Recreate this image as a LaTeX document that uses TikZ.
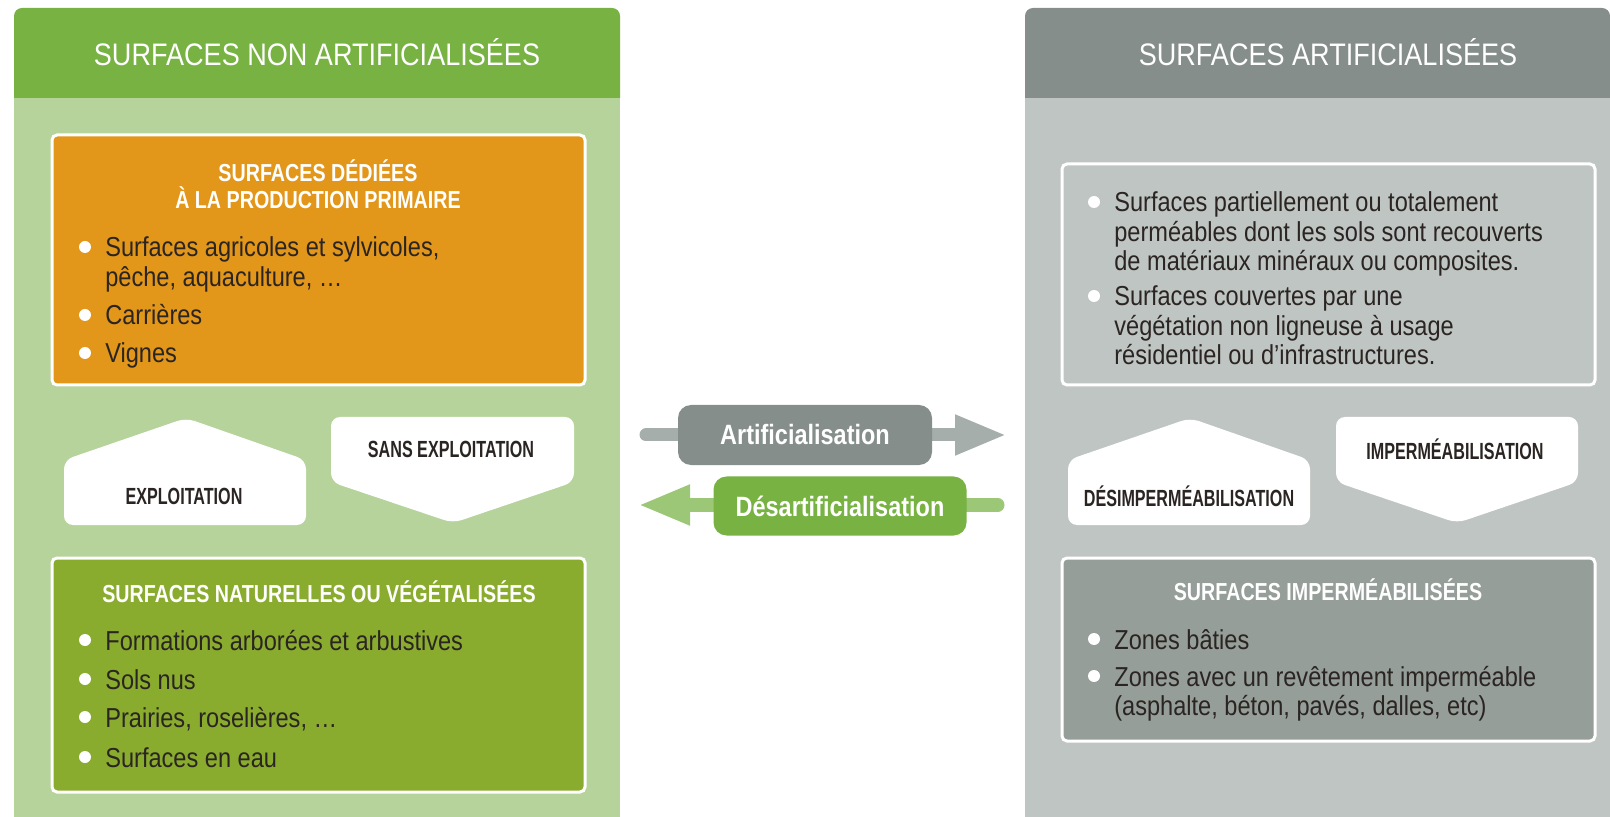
\documentclass[tikz,border=0pt]{standalone}
\usepackage{fontspec}
\setmainfont{Liberation Sans}
\newfontfamily\titrefont{Liberation Sans}[FakeStretch=0.87]
\newfontfamily\textefont{Liberation Sans}[FakeStretch=0.86]
\newfontfamily\boitefont{Liberation Sans}[FakeStretch=0.80]
\newfontfamily\formefont{Liberation Sans}[FakeStretch=0.69]
\newfontfamily\flechefont{Liberation Sans}[FakeStretch=0.84]
\usetikzlibrary{positioning,arrows.meta}
\definecolor{verttitre}{HTML}{77B243}
\definecolor{vertclair}{HTML}{B5D39A}
\definecolor{orangeprod}{HTML}{E2961A}
\definecolor{vertnat}{HTML}{8AAC2E}
\definecolor{gristitre}{HTML}{858E8A}
\definecolor{grisclair}{HTML}{BFC5C2}
\definecolor{grisfonce}{HTML}{959E98}
\definecolor{grisbarre}{HTML}{A6AEAB}
\definecolor{vertbarre}{HTML}{9BC776}
\definecolor{texte}{HTML}{2A2422}

\begin{document}
\begin{tikzpicture}[x=0.2mm,y=-0.2mm,
    titre/.style={text=white,inner sep=0pt,font=\titrefont\fontsize{17.7}{20}\selectfont},
    boite/.style={draw=white,line width=0.6mm,rounded corners=1mm},
    soustitre/.style={text=white,inner sep=0pt,align=center,
      font=\boitefont\bfseries\fontsize{14}{15.4}\selectfont},
    item/.style={anchor=base west,inner sep=0pt,text width=120mm,align=flush left,text=texte,
      font=\textefont\fontsize{15.6}{16.6}\selectfont},
    forme/.style={fill=white,rounded corners=1.8mm},
    formetexte/.style={text=texte,inner sep=0pt,font=\formefont\bfseries\fontsize{13.3}{15}\selectfont},
    fleche/.style={line width=2.6mm,line cap=round,-{Triangle[length=10.4mm,width=7.4mm]}},
    etiquette/.style={rounded corners=2.6mm,minimum width=50.8mm,minimum height=12mm,text=white,
      inner sep=0pt,font=\flechefont\bfseries\fontsize{15.9}{18}\selectfont}
  ]
    \useasboundingbox (0,0) rectangle (1610,817);

    % panneau gauche
    \fill[vertclair] (14,98) rectangle (620,817);
    \fill[verttitre] (14,98) {[rounded corners=1.6mm] -- (14,8) -- (620,8)} -- (620,98) -- cycle;
    \node[titre] (gauche) at (317,52) {SURFACES NON ARTIFICIALISÉES};

    \draw[boite,fill=orangeprod] (52,135) rectangle (585,385);
    \node[soustitre] (prod) at (318,184) {SURFACES DÉDIÉES\\À LA PRODUCTION PRIMAIRE};
    \node[item] (p1) at (105,257) {Surfaces agricoles et sylvicoles,\\pêche, aquaculture, \dots};
    \node[item] (p2) at (105,325) {Carrières};
    \node[item] (p3) at (105,363) {Vignes};

    \fill[forme] (64,525) -- (64,460) -- (186,418) -- (306,460) -- (306,525) -- cycle;
    \node[formetexte] (expl) at (184,496) {EXPLOITATION};
    \fill[forme] (331,417) -- (574,417) -- (574,482) -- (453,523) -- (331,482) -- cycle;
    \node[formetexte] (sansexpl) at (451,449) {SANS EXPLOITATION};

    \draw[boite,fill=vertnat] (52,558) rectangle (585,792);
    \node[soustitre] (nat) at (319,592) {SURFACES NATURELLES OU VÉGÉTALISÉES};
    \node[item] (n1) at (105,650) {Formations arborées et arbustives};
    \node[item] (n2) at (105,689) {Sols nus};
    \node[item] (n3) at (105,727) {Prairies, roselières, \dots};
    \node[item] (n4) at (105,767) {Surfaces en eau};

    % panneau droit
    \fill[grisclair] (1025,98) rectangle (1610,817);
    \fill[gristitre] (1025,98) {[rounded corners=1.6mm] -- (1025,8) -- (1610,8)} -- (1610,98) -- cycle;
    \node[titre] (droite) at (1328,52) {SURFACES ARTIFICIALISÉES};

    \draw[boite,fill=grisclair] (1062,164) rectangle (1595,385);
    \node[item] (r1) at (1114,212) {Surfaces partiellement ou totalement\\perméables dont les sols sont recouverts\\de matériaux minéraux ou composites.};
    \node[item] (r2) at (1114,306) {Surfaces couvertes par une\\végétation non ligneuse à usage\\résidentiel ou d’infrastructures.};

    \fill[forme] (1068,525) -- (1068,460) -- (1190,418) -- (1310,460) -- (1310,525) -- cycle;
    \node[formetexte] (desimp) at (1189,496) {DÉSIMPERMÉABILISATION};
    \fill[forme] (1336,417) -- (1578,417) -- (1578,482) -- (1457,523) -- (1336,482) -- cycle;
    \node[formetexte] (imp) at (1455,449) {IMPERMÉABILISATION};

    \draw[boite,fill=grisfonce] (1062,558) rectangle (1595,741);
    \node[soustitre] (impsurf) at (1328,590) {SURFACES IMPERMÉABILISÉES};
    \node[item] (i1) at (1114,649) {Zones bâties};
    \node[item] (i2) at (1114,686) {Zones avec un revêtement imperméable\\(asphalte, béton, pavés, dalles, etc)};

    \foreach \n in {p1,p2,p3,n1,n2,n3,n4,r1,r2,i1,i2}
      \fill[white] ([shift={(-20,-10)}]\n.base west) circle (1.2mm);

    % fleches
    \coordinate (a-deb) at (646,435);
    \coordinate (a-fin) at (1007,435);
    \draw[fleche,grisbarre] (a-deb) -- (a-fin);
    \node[etiquette,fill=gristitre] (artif) at (805,435) {Artificialisation};

    \coordinate (d-deb) at (998,505);
    \coordinate (d-fin) at (638,505);
    \draw[fleche,vertbarre] (d-deb) -- (d-fin);
    \node[etiquette,fill=verttitre,minimum width=50.6mm,minimum height=11.8mm] (desartif) at (840,506) {Désartificialisation};
\end{tikzpicture}
\end{document}
